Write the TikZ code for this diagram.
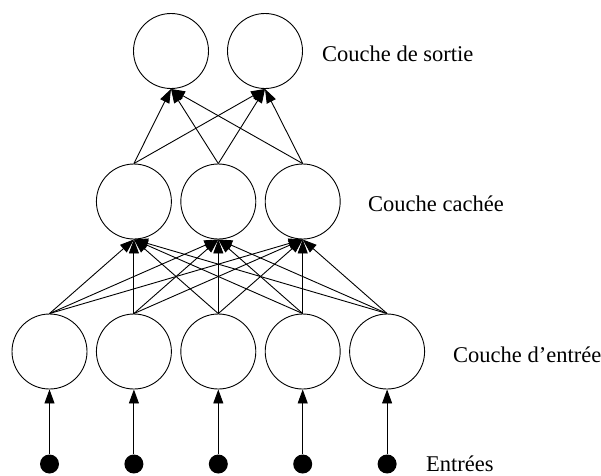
\documentclass[tikz,border=0pt]{standalone}
\usepackage{fontspec}
\setmainfont{Liberation Serif}
\usetikzlibrary{arrows.meta}
\begin{document}
\begin{tikzpicture}[x=1pt,y=-1pt,
  neuron/.style={draw,circle,line width=0.9pt,minimum size=75pt,inner sep=0pt},
  inputdot/.style={fill=black,circle,minimum size=19pt,inner sep=0pt},
  conn/.style={line width=0.9pt,-{Triangle[length=14pt,width=10pt]}},
  lab/.style={anchor=base west,inner sep=0pt,font=\fontsize{22.5pt}{27pt}\selectfont}]
\useasboundingbox (0,0) rectangle (601,475);
% input layer
\foreach \i/\x in {1/49.5,2/133.9,3/218.3,4/302.7,5/387.1}{
  \node[neuron] (in\i) at (\x,351.5) {};
  \node[inputdot] (d\i) at (\x,464) {};
  \draw[conn] (d\i.north) -- (in\i.south);
}
% hidden layer
\foreach \j/\x in {1/133.9,2/218.3,3/302.7}{
  \node[neuron] (h\j) at (\x,201.5) {};
}
% output layer
\foreach \k/\x in {1/171,2/265}{
  \node[neuron] (o\k) at (\x,51) {};
}
\foreach \i in {1,...,5}{
  \foreach \j in {1,2,3}{
    \draw[conn] (in\i.north) -- (h\j.south);
  }
}
\foreach \j in {1,2,3}{
  \foreach \k in {1,2}{
    \draw[conn] (h\j.north) -- (o\k.south);
  }
}
\node[lab] (ls) at (322,61) {Couche de sortie};
\node[lab] (lc) at (368,211) {Couche cachée};
\node[lab] (le) at (453,362) {Couche d’entrée};
\node[lab] (lx) at (426,471) {Entrées};
\end{tikzpicture}
\end{document}
